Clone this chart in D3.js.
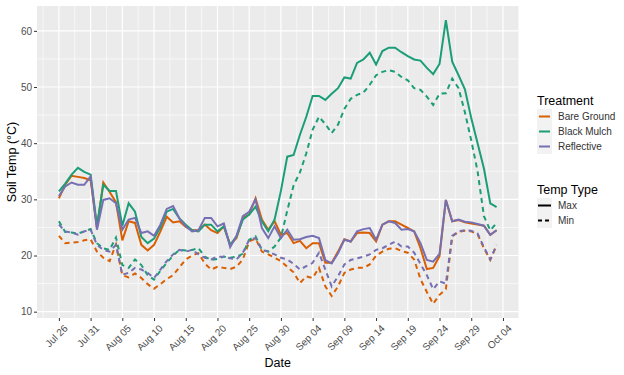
<!DOCTYPE html>
<html>
<head>
<meta charset="utf-8">
<script src="https://cdn.jsdelivr.net/npm/d3@7"></script>
<style>
  body { margin: 0; background: #fff; }
  svg { display: block; font-family: "Liberation Sans", Arial, sans-serif; }
</style>
</head>
<body>
<svg id="chart"></svg>
<script>
// first and last day of the record, one reading per day
const startDay = "2021-07-26";
const endDay = "2021-10-03";

const tickLabels = ["2021-07-26", "2021-07-31", "2021-08-05", "2021-08-10", "2021-08-15",
  "2021-08-20", "2021-08-25", "2021-08-30", "2021-09-04", "2021-09-09", "2021-09-14",
  "2021-09-19", "2021-09-24", "2021-09-29", "2021-10-04"];
const yTicks = [10, 20, 30, 40, 50, 60];

const treatments = ["Bare Ground", "Black Mulch", "Reflective"];
const tempTypes = ["Max", "Min"];

const bareMax = [30.2, 32.6, 34.2, 34.0, 33.8, 33.4, 24.9, 33.0, 31.3, 29.5,
  22.7, 26.1, 25.8, 21.9, 20.9, 21.9, 24.3, 26.9, 25.9, 26.1,
  25.1, 24.5, 24.5, 25.5, 24.5, 24.0, 25.2, 21.9, 23.1, 26.7,
  27.3, 30.2, 26.4, 24.6, 26.1, 23.7, 24.0, 22.2, 22.6, 21.3,
  22.2, 22.2, 18.7, 18.7, 20.7, 22.9, 22.5, 24.0, 24.1, 24.0,
  22.5, 25.5, 26.1, 26.1, 25.5, 24.9, 24.3, 21.3, 17.6, 17.8,
  19.9, 29.9, 26.1, 26.3, 25.9, 25.7, 25.5, 25.3, 23.7, 24.5];
const bareMin = [23.5, 22.2, 22.3, 22.4, 22.7, 22.9, 20.7, 19.6, 19.0, 22.0,
  16.5, 16.1, 16.8, 16.0, 14.9, 14.1, 14.9, 15.8, 16.5, 17.9,
  19.3, 20.0, 20.4, 18.6, 17.5, 18.0, 17.8, 17.6, 18.0, 19.3,
  22.5, 23.0, 20.7, 20.2, 19.6, 19.0, 18.0, 17.0, 15.1, 16.3,
  16.0, 17.8, 14.5, 12.8, 14.5, 16.9, 17.5, 17.8, 17.8, 18.4,
  20.0, 20.7, 21.2, 21.3, 20.8, 20.5, 19.3, 15.8, 13.5, 11.4,
  13.0, 14.0, 23.4, 24.2, 24.4, 24.3, 23.8, 21.3, 19.2, 21.8];
const mulchMax = [31.4, 32.8, 34.4, 35.6, 34.9, 34.4, 25.3, 32.6, 31.5, 31.5,
  25.3, 29.3, 27.8, 23.3, 22.2, 23.0, 25.0, 27.8, 28.3, 26.6,
  25.5, 24.5, 24.3, 25.5, 25.5, 24.3, 25.2, 21.9, 23.4, 26.4,
  27.3, 28.7, 26.1, 24.3, 26.4, 31.5, 37.6, 37.9, 41.5, 44.7,
  48.4, 48.4, 47.7, 48.8, 49.8, 51.7, 51.5, 54.3, 54.9, 56.1,
  54.0, 56.4, 57.0, 57.0, 56.2, 55.5, 54.9, 54.7, 53.4, 52.3,
  54.1, 61.9, 54.5, 52.1, 49.6, 44.5, 40.0, 35.5, 29.3, 28.6];
const mulchMin = [26.1, 24.2, 24.1, 23.9, 24.3, 24.7, 22.2, 21.3, 21.0, 23.2,
  18.3, 17.8, 19.3, 18.3, 16.5, 15.7, 17.3, 18.7, 20.0, 21.0,
  20.9, 21.0, 21.3, 19.8, 19.2, 19.4, 19.8, 19.6, 19.8, 20.3,
  22.8, 23.4, 21.0, 20.7, 21.6, 23.2, 28.0, 32.5, 34.8, 38.2,
  42.4, 44.7, 43.4, 41.8, 43.3, 46.1, 47.9, 48.6, 49.0, 50.4,
  52.1, 52.7, 53.0, 52.7, 51.8, 51.2, 49.8, 49.5, 48.3, 46.8,
  48.8, 48.9, 51.5, 49.8, 45.5, 40.5, 35.0, 27.0, 24.5, 25.8];
const reflMax = [30.6, 32.3, 33.0, 32.6, 32.6, 34.1, 24.6, 29.9, 30.2, 29.3,
  24.6, 26.4, 26.7, 24.0, 24.3, 23.5, 25.5, 28.3, 28.8, 26.6,
  25.2, 24.3, 24.5, 26.7, 26.7, 25.2, 25.7, 21.5, 23.5, 27.0,
  27.8, 30.0, 24.9, 23.1, 25.2, 23.1, 24.6, 22.8, 22.9, 23.3,
  23.5, 23.1, 19.2, 18.6, 20.4, 22.8, 22.5, 24.3, 24.7, 24.9,
  22.8, 25.5, 26.1, 25.8, 24.6, 24.7, 24.3, 22.2, 19.2, 18.9,
  20.3, 29.9, 26.1, 26.4, 26.0, 25.9, 25.6, 25.3, 23.7, 24.5];
const reflMin = [25.5, 24.3, 24.1, 23.7, 24.3, 24.6, 21.9, 21.0, 20.7, 21.9,
  16.6, 16.9, 17.8, 17.5, 16.9, 16.0, 17.5, 19.0, 20.2, 21.0,
  20.7, 21.0, 20.2, 19.6, 19.3, 19.8, 19.8, 19.5, 19.3, 20.5,
  22.8, 23.1, 21.0, 20.7, 20.2, 19.6, 19.3, 18.5, 17.5, 18.1,
  18.7, 20.5, 17.5, 14.5, 16.3, 18.4, 19.2, 19.5, 19.8, 20.2,
  21.0, 21.3, 21.9, 22.5, 21.6, 21.6, 20.5, 18.5, 16.5, 14.0,
  15.4, 15.0, 23.5, 24.3, 24.5, 24.4, 23.9, 21.5, 19.3, 21.9];

const colors = {"Bare Ground": "#D95F02", "Black Mulch": "#1B9E77", "Reflective": "#7570B3"};
const dashes = {"Max": null, "Min": "5,4"};

const W = 624, H = 375;
const panel = {left: 37, right: 518.5, top: 6, bottom: 318};

const parse = d3.utcParse("%Y-%m-%d");
const days = d3.utcDay.range(parse(startDay), d3.utcDay.offset(parse(endDay), 1));

const series = [
  {treat: "Bare Ground", type: "Max", vals: bareMax},
  {treat: "Bare Ground", type: "Min", vals: bareMin},
  {treat: "Black Mulch", type: "Max", vals: mulchMax},
  {treat: "Black Mulch", type: "Min", vals: mulchMin},
  {treat: "Reflective", type: "Max", vals: reflMax},
  {treat: "Reflective", type: "Min", vals: reflMin}
];

const svg = d3.select("#chart").attr("width", W).attr("height", H);

// ggplot style 5% expansion on both scales
const t0 = days[0], t1 = days[days.length - 1];
const padT = (t1 - t0) * 0.05;
const x = d3.scaleUtc()
    .domain([new Date(+t0 - padT), new Date(+t1 + padT)])
    .range([panel.left, panel.right]);

const allVals = series.flatMap(s => s.vals);
const vMin = d3.min(allVals), vMax = d3.max(allVals);
const padV = (vMax - vMin) * 0.05;
const y = d3.scaleLinear()
    .domain([vMin - padV, vMax + padV])
    .range([panel.bottom, panel.top]);

const xTicks = tickLabels.map(parse);

// panel background
svg.append("rect")
    .attr("x", panel.left).attr("y", panel.top)
    .attr("width", panel.right - panel.left).attr("height", panel.bottom - panel.top)
    .attr("fill", "#EBEBEB");

const grid = svg.append("g");

// minor grid: midway between the major breaks
const xMinor = [new Date(+xTicks[0] - (xTicks[1] - xTicks[0]) / 2)]
  .concat(d3.pairs(xTicks, (a, b) => new Date((+a + +b) / 2)))
  .filter(d => x(d) > panel.left && x(d) < panel.right);
const yMinor = d3.pairs(yTicks, (a, b) => (a + b) / 2);

grid.selectAll(".xminor").data(xMinor).join("line")
    .attr("x1", d => x(d)).attr("x2", d => x(d))
    .attr("y1", panel.top).attr("y2", panel.bottom)
    .attr("stroke", "#fff").attr("stroke-width", 0.6);
grid.selectAll(".yminor").data(yMinor).join("line")
    .attr("x1", panel.left).attr("x2", panel.right)
    .attr("y1", d => y(d)).attr("y2", d => y(d))
    .attr("stroke", "#fff").attr("stroke-width", 0.6);
grid.selectAll(".xmajor").data(xTicks).join("line")
    .attr("x1", d => x(d)).attr("x2", d => x(d))
    .attr("y1", panel.top).attr("y2", panel.bottom)
    .attr("stroke", "#fff").attr("stroke-width", 1.2);
grid.selectAll(".ymajor").data(yTicks).join("line")
    .attr("x1", panel.left).attr("x2", panel.right)
    .attr("y1", d => y(d)).attr("y2", d => y(d))
    .attr("stroke", "#fff").attr("stroke-width", 1.2);

// lines
const line = d3.line()
    .x((d, i) => x(days[i]))
    .y(d => y(d));

svg.append("g").selectAll("path").data(series).join("path")
    .attr("d", d => line(d.vals))
    .attr("fill", "none")
    .attr("stroke", d => colors[d.treat])
    .attr("stroke-width", 2)
    .attr("stroke-dasharray", d => dashes[d.type]);

// axes
const xAxis = d3.axisBottom(x)
    .tickValues(xTicks)
    .tickFormat(d3.utcFormat("%b %d"))
    .tickSize(3).tickPadding(2);
const yAxis = d3.axisLeft(y)
    .tickValues(yTicks)
    .tickSize(3).tickPadding(2);

const xG = svg.append("g")
    .attr("transform", `translate(0,${panel.bottom})`)
    .call(xAxis)
    .call(g => g.select(".domain").remove());
xG.selectAll("line").attr("stroke", "#333");
xG.selectAll("text")
    .attr("fill", "#4D4D4D")
    .style("font-size", "10px")
    .attr("text-anchor", "end")
    .attr("transform", "translate(4,6) rotate(-45)")
    .attr("x", 0).attr("y", 0).attr("dy", "0.7em");

const yG = svg.append("g")
    .attr("transform", `translate(${panel.left},0)`)
    .call(yAxis)
    .call(g => g.select(".domain").remove());
yG.selectAll("line").attr("stroke", "#333");
yG.selectAll("text").attr("fill", "#4D4D4D").style("font-size", "10px");

// axis titles
svg.append("text")
    .attr("x", (panel.left + panel.right) / 2).attr("y", 367)
    .attr("text-anchor", "middle")
    .style("font-size", "12.5px")
    .text("Date");
svg.append("text")
    .attr("transform", `translate(16,${(panel.top + panel.bottom) / 2}) rotate(-90)`)
    .attr("text-anchor", "middle")
    .style("font-size", "12.5px")
    .text("Soil Temp (°C)");

// legends
const legX = 537, keyW = 15, keyH = 15;

function legend(top, title, items, drawKey) {
  const g = svg.append("g").attr("transform", `translate(${legX},${top})`);
  g.append("text").attr("x", 0).attr("y", 0).attr("dy", "0.35em")
      .style("font-size", "12.5px").text(title);
  const rows = g.selectAll(".row").data(items).join("g")
      .attr("transform", (d, i) => `translate(0,${8 + i * keyH})`);
  rows.append("rect").attr("width", keyW).attr("height", keyH).attr("fill", "#F2F2F2");
  rows.each(function(d) { drawKey(d3.select(this), d); });
  rows.append("text").attr("x", keyW + 6).attr("y", keyH / 2).attr("dy", "0.35em")
      .attr("fill", "#333").style("font-size", "10px").text(d => d);
}

legend(101, "Treatment", treatments, (g, d) => {
  g.append("line").attr("x1", 2).attr("x2", keyW - 2)
      .attr("y1", keyH / 2).attr("y2", keyH / 2)
      .attr("stroke", colors[d]).attr("stroke-width", 2);
});

legend(190, "Temp Type", tempTypes, (g, d) => {
  g.append("line").attr("x1", 1).attr("x2", keyW - 1)
      .attr("y1", keyH / 2).attr("y2", keyH / 2)
      .attr("stroke", "#000").attr("stroke-width", 2)
      .attr("stroke-dasharray", d === "Min" ? "4,3" : null);
});
</script>
</body>
</html>
